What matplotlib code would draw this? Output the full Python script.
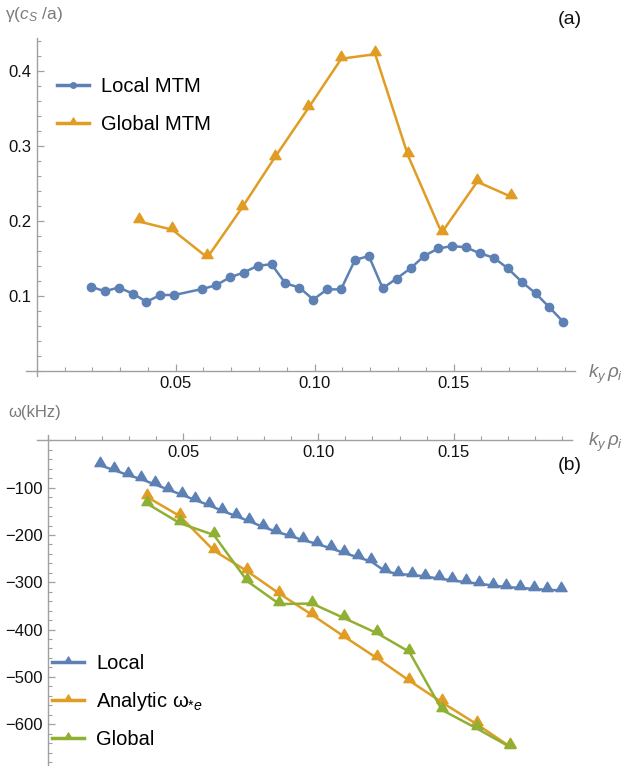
import numpy as np
import matplotlib
matplotlib.use("Agg")
import matplotlib.pyplot as plt
from matplotlib.path import Path
from matplotlib.lines import Line2D
from matplotlib.ticker import MultipleLocator, FixedLocator

plt.rcParams['font.family'] = ['Liberation Sans', 'DejaVu Sans']
plt.rcParams['mathtext.fontset'] = 'custom'
plt.rcParams['mathtext.rm'] = 'Liberation Sans'
plt.rcParams['mathtext.it'] = 'Liberation Sans:italic'

# growth rate, local MTM scan
ky_local_g = [0.0195, 0.0245, 0.0295, 0.0345, 0.0395, 0.0445, 0.0495,
              0.0595, 0.0645, 0.0695, 0.0745, 0.0795, 0.0845, 0.0895,
              0.0945, 0.0995, 0.1045, 0.1095, 0.1145, 0.1195, 0.1245,
              0.1295, 0.1345, 0.1395, 0.1445, 0.1495, 0.1545, 0.1595,
              0.1645, 0.1695, 0.1745, 0.1795, 0.1845, 0.1895]
gamma_local = [0.112, 0.106, 0.111, 0.103, 0.092, 0.101, 0.101,
               0.109, 0.114, 0.1245, 0.131, 0.140, 0.142, 0.1165,
               0.111, 0.095, 0.1085, 0.1085, 0.1476, 0.153, 0.110,
               0.123, 0.1365, 0.1533, 0.163, 0.1663, 0.1645, 0.1565,
               0.1507, 0.1365, 0.1187, 0.1032, 0.0845, 0.065]

# global runs
ky_global = [0.0368, 0.0488, 0.0614, 0.0738, 0.0856, 0.0977,
             0.1096, 0.1218, 0.1336, 0.1457, 0.1585, 0.1707]
gamma_global = [0.199, 0.188, 0.151, 0.217, 0.284, 0.350,
                0.416, 0.422, 0.287, 0.184, 0.252, 0.232]
omega_analytic = [-120, -160, -233, -277, -324, -369,
                  -415, -461, -508, -554, -600, -647]
omega_global = [-134, -175, -200, -298, -346, -345,
                -376, -408, -447, -570, -609, -648]

# real frequency, local scan
ky_local_w = [0.0195, 0.0245, 0.0295, 0.0345, 0.0395, 0.0445, 0.0495,
              0.0545, 0.0595, 0.0645, 0.0695, 0.0745, 0.0795, 0.0845,
              0.0895, 0.0945, 0.0995, 0.1045, 0.1095, 0.1145, 0.1195,
              0.1245, 0.1295, 0.1345, 0.1395, 0.1445, 0.1495, 0.1545,
              0.1595, 0.1645, 0.1695, 0.1745, 0.1795, 0.1845, 0.1895]
omega_local = [-53, -63, -73, -82, -93, -104, -115,
               -126, -137, -149, -160, -171, -183, -193,
               -202, -211, -219, -228, -238, -247, -256,
               -276, -283, -284, -288, -292, -296, -300,
               -303, -307, -310, -312, -314, -316, -317]

BLUE = '#5E81B5'
ORANGE = '#E19C24'
GREEN = '#8FB032'
AXCOL = '#a0a0a0'
LBLCOL = '#7a7a7a'

# triangle sitting on its base (like Mathematica's plot marker)
tri = Path([(-1, -0.2), (1, -0.2), (0, 1.5), (-1, -0.2)],
           [Path.MOVETO, Path.LINETO, Path.LINETO, Path.CLOSEPOLY])


def style_axes(ax):
    for s in ['top', 'right']:
        ax.spines[s].set_visible(False)
    ax.spines['left'].set_position(('data', 0))
    ax.spines['bottom'].set_position(('data', 0))
    for s in ['left', 'bottom']:
        ax.spines[s].set_color(AXCOL)
        ax.spines[s].set_linewidth(1.0)
    ax.tick_params(which='both', direction='in', color=AXCOL,
                   labelsize=12, labelcolor='#111111')
    ax.tick_params(which='major', length=5, width=0.9)
    ax.tick_params(which='minor', length=3, width=0.8)
    ax.xaxis.set_major_locator(FixedLocator([0.05, 0.10, 0.15]))
    ax.xaxis.set_minor_locator(MultipleLocator(0.01))
    ax.set_xticklabels(['0.05', '0.10', '0.15'])
    ax.patch.set_visible(False)


fig = plt.figure(figsize=(6.23, 7.66), dpi=100)

# (a) growth rate
ax1 = fig.add_axes([0.0411, 0.5091, 0.8819, 0.4417])
style_axes(ax1)
ax1.set_xlim(-0.004, 0.1937)
ax1.set_ylim(-0.007, 0.444)
ax1.yaxis.set_major_locator(FixedLocator([0.1, 0.2, 0.3, 0.4]))
ax1.yaxis.set_minor_locator(MultipleLocator(0.02))
ax1.set_yticklabels(['0.1', '0.2', '0.3', '0.4'])

ax1.plot(ky_local_g, gamma_local, color=BLUE, lw=1.8, marker='o', ms=6,
         zorder=3)
ax1.plot(ky_global, gamma_global, color=ORANGE, lw=1.8, marker=tri, ms=12,
         zorder=3)

h1 = [Line2D([], [], color=BLUE, lw=2.5, marker='o', ms=4),
      Line2D([], [], color=ORANGE, lw=2.5, marker=tri, ms=8)]
ax1.legend(h1, ['Local MTM', 'Global MTM'], loc='upper left',
           bbox_to_anchor=(57 / 623, 1 - 77 / 766),
           bbox_transform=fig.transFigure, frameon=False, fontsize=14.5,
           handlelength=1.6, handletextpad=0.6, labelspacing=0.95,
           borderpad=0, borderaxespad=0)

fig.text(5 / 623, 1 - 15 / 766, r'γ($c_S$ /a)', color=LBLCOL, fontsize=12.5,
         va='center', ha='left')
fig.text(570 / 623, 1 - 20 / 766, '(a)', fontsize=14, ha='center',
         va='center', color='#111111')
fig.text(588 / 623, 1 - 374 / 766, r'$k_y\,\rho_i$', color=LBLCOL,
         fontsize=13.5, ha='left', va='center')

# (b) real frequency
ax2 = fig.add_axes([0.0592, 0.0003, 0.8584, 0.4316])
style_axes(ax2)
ax2.set_xlim(-0.004, 0.1936)
ax2.set_ylim(-688, 11)
ax2.yaxis.set_major_locator(FixedLocator([-100, -200, -300, -400, -500, -600]))
ax2.yaxis.set_minor_locator(MultipleLocator(20))

ax2.plot(ky_local_w, omega_local, color=BLUE, lw=1.8, marker=tri, ms=12,
         zorder=3)
ax2.plot(ky_global, omega_analytic, color=ORANGE, lw=1.8, marker=tri, ms=12,
         zorder=3)
ax2.plot(ky_global, omega_global, color=GREEN, lw=1.8, marker=tri, ms=12,
         zorder=4)

h2 = [Line2D([], [], color=c, lw=2.5, marker=tri, ms=8)
      for c in (BLUE, ORANGE, GREEN)]
ax2.legend(h2, ['Local', r'Analytic ω$_{*e}$', 'Global'], loc='upper left',
           bbox_to_anchor=(52 / 623, 1 - 654 / 766),
           bbox_transform=fig.transFigure, frameon=False, fontsize=14.5,
           handlelength=1.6, handletextpad=0.6, labelspacing=0.85,
           borderpad=0, borderaxespad=0)

fig.text(8 / 623, 1 - 413 / 766, 'ω(kHz)', color=LBLCOL, fontsize=12,
         va='center', ha='left')
fig.text(570 / 623, 1 - 465 / 766, '(b)', fontsize=14, ha='center',
         va='center', color='#111111')
fig.text(588 / 623, 1 - 442 / 766, r'$k_y\,\rho_i$', color=LBLCOL,
         fontsize=13.5, ha='left', va='center')

fig.savefig('out.png', dpi=100)
